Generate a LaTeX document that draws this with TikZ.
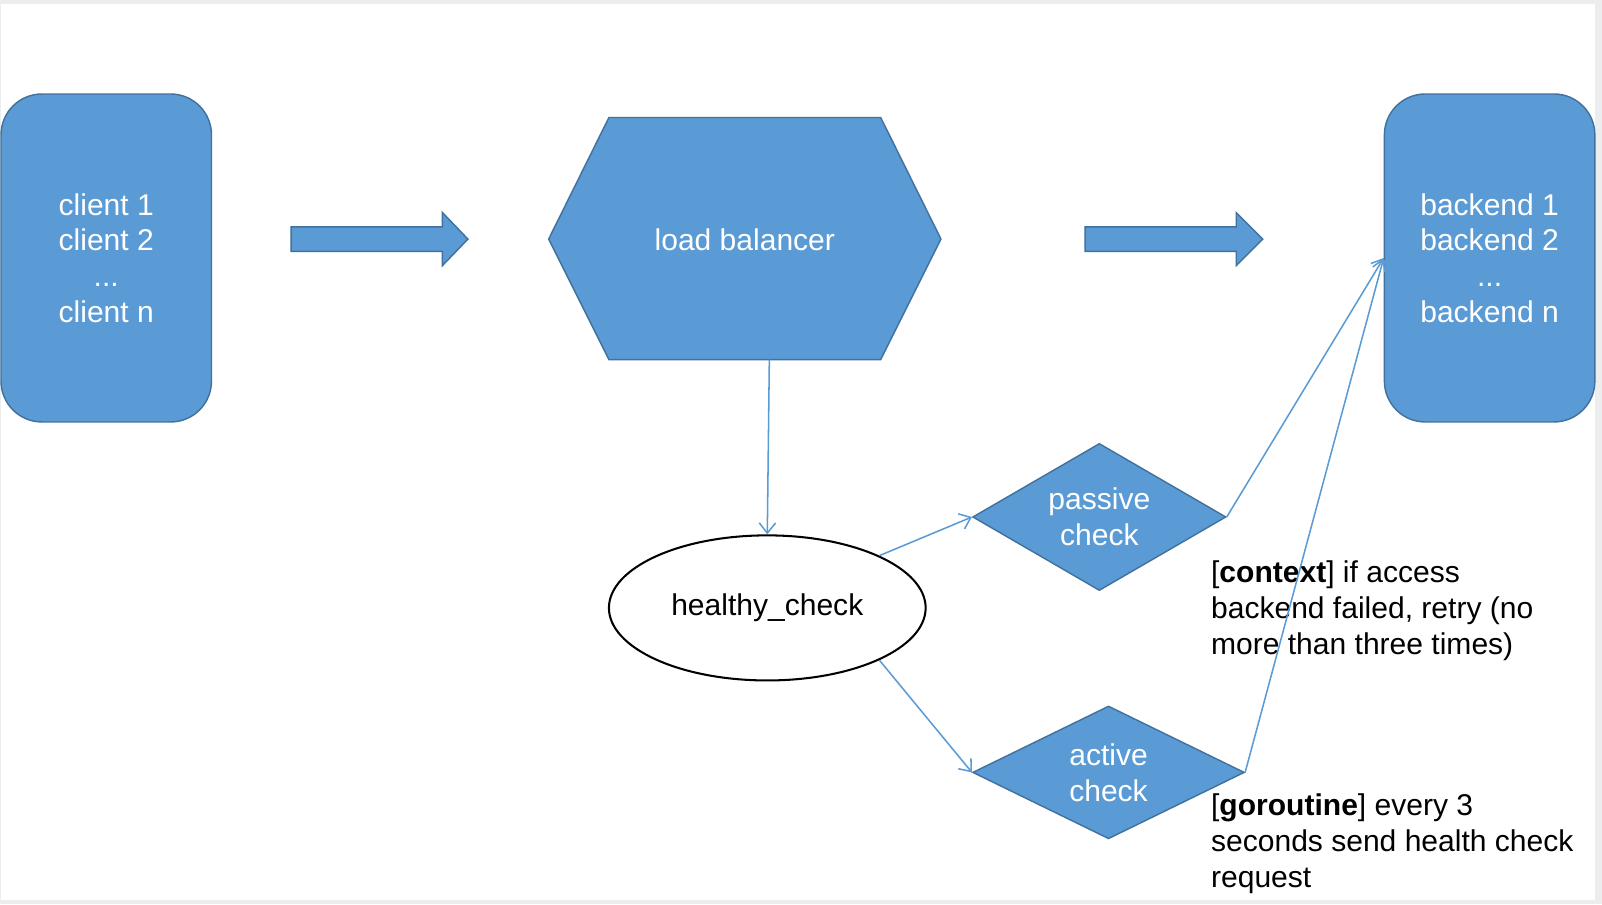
\documentclass[tikz,border=0pt]{standalone}
\usepackage{fontspec}
\setmainfont{Liberation Sans}
\usetikzlibrary{arrows.meta}
\usetikzlibrary{shapes.geometric}
\definecolor{boxblue}{HTML}{5B9BD5}
\definecolor{boxedge}{HTML}{41719C}
\definecolor{framegray}{RGB}{236,237,238}

\begin{document}
\begin{tikzpicture}[x=0.5pt,y=-0.5pt,>={Straight Barb[length=5pt,width=8pt]},
	font=\fontsize{14.7}{17.5}\selectfont]
		\tikzstyle{blueshape}=[draw=boxedge,fill=boxblue,line width=0.7pt,text=white];
		\tikzstyle{hostbox}=[blueshape,rectangle,rounded corners=20pt,
			minimum width=103pt,minimum height=160.5pt,align=center];
		\tikzstyle{checknode}=[blueshape,diamond,inner sep=0pt,align=center];
		\tikzstyle{link}=[->,draw=boxblue,line width=0.75pt];
		\tikzstyle{note}=[anchor=west,align=left,inner sep=0pt];

		\fill[framegray](0,0)rectangle(1568,885);
		\fill[white](1,4)rectangle(1561.5,881);

		\node[hostbox](cl)at(104,252.5){client 1\\client 2\\...\\client n};
		\node[hostbox](bk)at(1458,252.5){backend 1\\backend 2\\...\\backend n};

		\draw[blueshape](596,115)--(862,115)--(921,234)--(862,352)--(596,352)--(537,234)--cycle;
		\node[text=white](lb)at(729,235){load balancer};
		\coordinate(lbs)at(753,352);

		\draw[blueshape](285,222)--(433,222)--(433,208)--(458,234)--(433,260)--(433,246)--(285,246)--cycle;
		\draw[blueshape](1062,222)--(1210,222)--(1210,208)--(1236,234)--(1210,260)--(1210,246)--(1062,246)--cycle;

		\node[ellipse,draw=black,line width=1pt,fill=white,
			minimum width=155pt,minimum height=71pt](hc)at(751,595){\raisebox{-1.5pt}{healthy\_check}};
		\node[checknode,aspect=1.72,minimum width=124pt,minimum height=72pt](pc)at(1076,506){passive\\check};
		\node[checknode,aspect=2.05,minimum width=133pt,minimum height=65pt](ac)at(1085,756){active\\check};

		\node[note](ctx)at(1185,598){[\textbf{context}] if access\\backend failed, retry (no\\more than three times)};
		\node[note](gor)at(1185,826){[\textbf{goroutine}] every 3\\seconds send health check\\request};

		\draw[link](lbs)--(hc.north);
		\draw[link](hc.25)--(pc.west);
		\draw[link](hc.-25)--(ac.west);
		\draw[link](pc.east)--(bk.west);
		\draw[link](ac.east)--(bk.west);
	\end{tikzpicture}
\end{document}
